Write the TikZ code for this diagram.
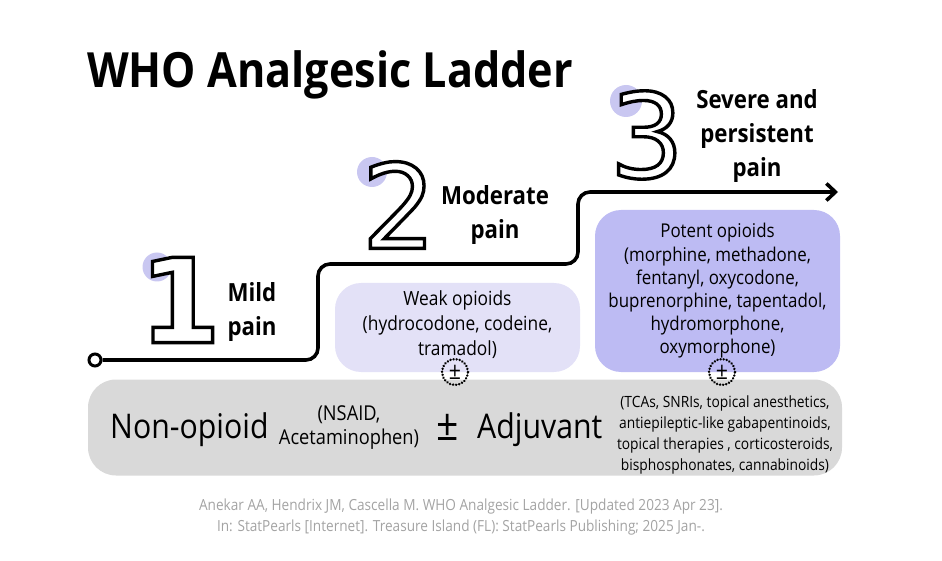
\documentclass[tikz,border=0pt]{standalone}
\usepackage{fontspec}
\setmainfont{Open Sans}[FakeStretch=0.89]
\newfontfamily\digitfont{DejaVu Sans}[BoldFont={DejaVu Sans Bold}]
\newcommand{\outlinetext}[1]{\special{pdf:literal direct 2 Tr 3.4 w 1 1 1 rg 0 0 0 RG}#1\special{pdf:literal direct 0 Tr 0 0 0 rg}}
\usetikzlibrary{arrows.meta}
\definecolor{weakfill}{HTML}{E3E1F7}
\definecolor{potentfill}{HTML}{BDBBF3}
\definecolor{dotfill}{HTML}{C9C7F1}
\definecolor{grayfill}{HTML}{D9D9D9}
\definecolor{citegray}{HTML}{A3A3A3}
\tikzset{
  ladder/.style={line width=3.6pt, rounded corners=12pt},
  digitnode/.style={inner sep=0pt, font=\digitfont\fontsize{117}{117}\selectfont},
  bigdot/.style={circle, fill=dotfill, inner sep=0pt},
  painlabel/.style={align=center, inner sep=0pt, font=\bfseries\fontsize{25}{34}\selectfont},
  drugbox/.style={rounded corners=26pt, inner sep=0pt, align=center},
  pmcircle/.style={circle, draw, line width=2.6pt, dash pattern=on 0.1pt off 3pt, line cap=round, inner sep=0pt, minimum size=26pt, font=\fontsize{24}{24}\selectfont},
}
\begin{document}
\begin{tikzpicture}[x=1pt, y=-1pt]
\useasboundingbox (0,0) rectangle (942,561);
% title
\node[anchor=base west, inner sep=0pt, font=\bfseries\fontsize{48.5}{48.5}\selectfont] (title) at (87,88) {WHO Analgesic Ladder};

% gray base box
\node[drugbox, fill=grayfill, rounded corners=28pt, minimum width=754pt, minimum height=96pt] (base) at (465,427.5) {};

% opioid boxes
\node[drugbox, fill=weakfill, minimum width=245pt, minimum height=89pt] (weak) at (457.5,327.5) {};
\node[align=center, inner sep=0pt, font=\fontsize{19.5}{25}\selectfont] (weaktext) at (457.5,324.5)
  {Weak opioids\\(hydrocodone, codeine,\\tramadol)};
\node[drugbox, fill=potentfill, minimum width=245pt, minimum height=162pt, font=\fontsize{19}{23.2}\selectfont] (potent) at (717.5,291)
  {Potent opioids\\(morphine, methadone,\\fentanyl, oxycodone,\\buprenorphine, tapentadol,\\hydromorphone,\\oxymorphone)};

% ladder line
\node[circle, draw, line width=3pt, fill=white, minimum size=12pt, inner sep=0pt] (startdot) at (95,360) {};
\coordinate (c1) at (318,360);
\coordinate (c2) at (318,264);
\coordinate (c3) at (578,264);
\coordinate (c4) at (578,192);
\coordinate (tip) at (838,192);
\draw[ladder, -{Straight Barb[length=9pt, width=17pt]}] (startdot.east) -- (c1) -- (c2) -- (c3) -- (c4) -- (tip);

% pain labels
\node[painlabel] (mild) at (252,312) {Mild\\pain};
\node[painlabel] (moderate) at (495,215) {Moderate\\pain};
\node[painlabel] (severe) at (757,136.5) {Severe and\\persistent\\pain};

% plus-minus circles
\node[pmcircle] (pm1) at (455,372) {±};
\node[pmcircle] (pm2) at (722,372) {±};

% base row
\node[anchor=base west, inner sep=0pt, font=\fontsize{34}{34}\selectfont] (nonop) at (110,438) {Non-opioid};
\node[align=center, inner sep=0pt, font=\fontsize{20.5}{24}\selectfont] (nsaid) at (349,428) {(NSAID,\\Acetaminophen)};
\node[anchor=base, inner sep=0pt, font=\fontsize{44}{44}\selectfont] (pm) at (448,440) {±};
\node[anchor=base west, inner sep=0pt, font=\fontsize{34}{34}\selectfont] (adj) at (477,438) {Adjuvant};
\node[align=center, inner sep=0pt, font=\fontsize{15.5}{21.3}\selectfont] (adjlist) at (725,435)
  {(TCAs, SNRIs, topical anesthetics,\\antiepileptic-like gabapentinoids,\\topical therapies , corticosteroids,\\bisphosphonates, cannabinoids)};

% citation
\node[align=center, inner sep=0pt, text=citegray, font=\fontsize{15.3}{21}\selectfont] (cite) at (461,517)
  {Anekar AA, Hendrix JM, Cascella M. WHO Analgesic Ladder. [Updated 2023 Apr 23].\\In: StatPearls [Internet]. Treasure Island (FL): StatPearls Publishing; 2025 Jan-.};

% step numbers
\node[bigdot, minimum size=29pt] (dot1) at (157,267) {};
\node[bigdot, minimum size=30pt] (dot2) at (372,172) {};
\node[bigdot, minimum size=32pt] (dot3) at (626,101) {};
\node[digitnode] (one) at (180,300) {\outlinetext{\bfseries 1}};
\node[digitnode] (two) at (399,205) {\outlinetext{2}};
\node[digitnode] (three) at (647,135) {\outlinetext{3}};
\end{tikzpicture}
\end{document}
